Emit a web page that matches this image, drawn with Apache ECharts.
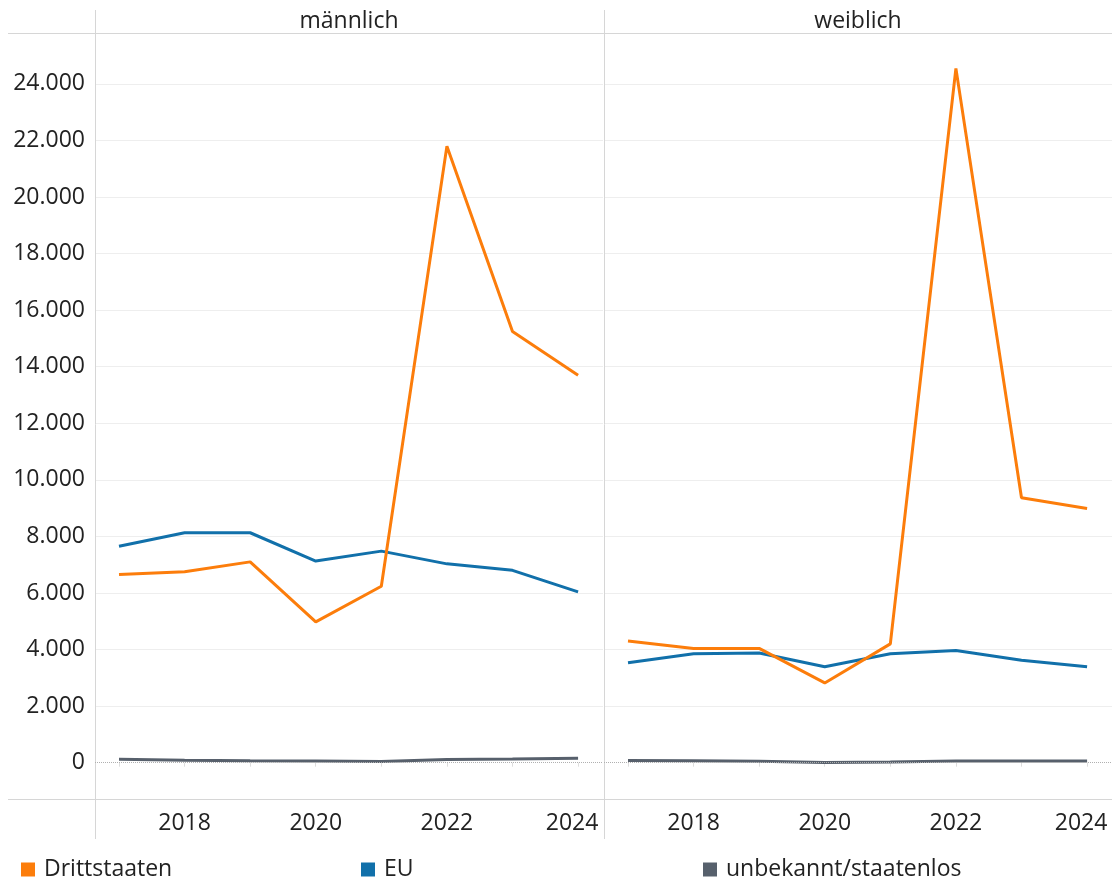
<!DOCTYPE html>
<html>
<head>
<meta charset="utf-8">
<script src="https://cdn.jsdelivr.net/npm/echarts@6/dist/echarts.min.js"></script>
<style>
html,body{margin:0;padding:0;background:#fff;}
#chart{width:1112px;height:879px;}
</style>
</head>
<body>
<div id="chart"></div>
<script>
// ---- data ----
const years = [2017, 2018, 2019, 2020, 2021, 2022, 2023, 2024];
const panels = ['männlich', 'weiblich'];
const seriesNames = ['Drittstaaten', 'EU', 'unbekannt/staatenlos'];
const maleDrittstaaten = [6650, 6750, 7100, 4980, 6240, 21800, 15250, 13700];
const maleEU = [7650, 8130, 8130, 7130, 7480, 7030, 6800, 6040];
const maleUnbekannt = [120, 90, 70, 60, 40, 110, 130, 160];
const femaleDrittstaaten = [4300, 4040, 4040, 2820, 4200, 24550, 9370, 8990];
const femaleEU = [3530, 3850, 3880, 3390, 3850, 3970, 3620, 3390];
const femaleUnbekannt = [80, 70, 50, 10, 20, 60, 60, 60];
const yTickValues = [0, 2000, 4000, 6000, 8000, 10000, 12000, 14000, 16000, 18000, 20000, 22000, 24000];
const xLabelYears = [2018, 2020, 2022, 2024];

// ---- styling ----
const colors = {'Drittstaaten': '#fc7d0b', 'EU': '#1170aa', 'unbekannt/staatenlos': '#57606c'};
const FONT = 'Open Sans';
const TXT = '#222';
const LINE = '#d6d6d6';

function fmt(v) { return String(v).replace(/\B(?=(\d{3})+(?!\d))/g, '.'); }

const panelData = [
  [maleDrittstaaten, maleEU, maleUnbekannt],
  [femaleDrittstaaten, femaleEU, femaleUnbekannt]
];

const grids = [
  {left: 95, top: 33, width: 508, height: 766},
  {left: 604, top: 33, width: 508, height: 766}
];

const xAxes = grids.map((g, i) => ({
  type: 'value', gridIndex: i, min: 2016.634, max: 2024.38,
  axisLine: {show: false},
  splitLine: {show: false},
  axisTick: {show: true, customValues: years, length: 4, lineStyle: {color: '#dddddd'}},
  axisLabel: {
    customValues: xLabelYears, margin: 13, fontSize: 23, color: TXT, fontFamily: FONT,
    formatter: v => v === 2024 ? '{r|' + v + '}' : String(v),
    rich: {r: {fontSize: 23, color: TXT, fontFamily: FONT, padding: [0, 12, 0, 0]}}
  }
}));

const yAxes = grids.map((g, i) => ({
  type: 'value', gridIndex: i, min: -1284, max: 25800,
  axisLine: {show: false},
  axisTick: {show: false, customValues: yTickValues.filter(v => v !== 0)},
  splitLine: {show: true, lineStyle: {color: '#eeeeee', width: 1}},
  axisLabel: {
    show: i === 0, customValues: yTickValues, margin: 10, fontSize: 23, color: TXT, fontFamily: FONT,
    formatter: v => fmt(v)
  }
}));

const series = [];
panelData.forEach((arrs, p) => {
  // draw order: unbekannt, EU, Drittstaaten (orange on top)
  [2, 1, 0].forEach(k => {
    const s = {
      name: seriesNames[k], type: 'line', xAxisIndex: p, yAxisIndex: p,
      data: years.map((y, j) => [y, arrs[k][j]]),
      showSymbol: false, symbol: 'none', smooth: false, silent: true,
      lineStyle: {width: 3, color: colors[seriesNames[k]]},
      itemStyle: {color: colors[seriesNames[k]]},
      z: 3 + (2 - k)
    };
    if (k === 2) {
      s.markLine = {
        silent: true, symbol: 'none', label: {show: false}, animation: false,
        lineStyle: {type: 'dotted', color: '#b0b0b0', width: 1},
        data: [{yAxis: 0}]
      };
    }
    series.push(s);
  });
});

const legendLefts = [16, 356, 698];
const legends = seriesNames.map((n, i) => ({
  data: [n], left: legendLefts[i], top: 853, orient: 'horizontal',
  icon: 'rect', itemWidth: 14, itemHeight: 14, itemGap: 0, selectedMode: false,
  textStyle: {fontSize: 23, color: TXT, fontFamily: FONT, padding: [0, 0, 0, 4]}
}));

const graphics = [
  {type: 'line', shape: {x1: 8, y1: 33.5, x2: 1112, y2: 33.5}, style: {stroke: LINE, lineWidth: 1}, z: 1},
  {type: 'line', shape: {x1: 8, y1: 799.5, x2: 1112, y2: 799.5}, style: {stroke: LINE, lineWidth: 1}, z: 1},
  {type: 'line', shape: {x1: 95.5, y1: 10, x2: 95.5, y2: 839}, style: {stroke: LINE, lineWidth: 1}, z: 1},
  {type: 'line', shape: {x1: 604.5, y1: 10, x2: 604.5, y2: 839}, style: {stroke: LINE, lineWidth: 1}, z: 1},
  {type: 'text', x: 349, y: 21, style: {text: panels[0], fontSize: 23, fontFamily: FONT, fill: TXT, textAlign: 'center', textVerticalAlign: 'middle'}},
  {type: 'text', x: 858, y: 21, style: {text: panels[1], fontSize: 23, fontFamily: FONT, fill: TXT, textAlign: 'center', textVerticalAlign: 'middle'}}
];

const chart = echarts.init(document.getElementById('chart'), null, {renderer: 'canvas'});
chart.setOption({
  animation: false,
  backgroundColor: '#ffffff',
  textStyle: {fontFamily: FONT},
  grid: grids,
  xAxis: xAxes,
  yAxis: yAxes,
  legend: legends,
  graphic: graphics,
  series: series
});
</script>
</body>
</html>
